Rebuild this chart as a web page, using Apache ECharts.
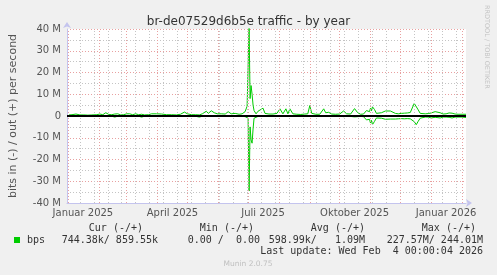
<!DOCTYPE html>
<html><head><meta charset="utf-8">
<script src="https://cdn.jsdelivr.net/npm/echarts@6/dist/echarts.min.js"></script>
<style>html,body{margin:0;padding:0;background:#f0f0f0}#c{width:497px;height:275px}</style>
</head><body><div id="c"></div>
<script>
// x values: days since 2024-12-31 (graph start, 400-day window ending 2026-02-04)
const days = [2,5,9,13,17,21,25,27,30,33,36,39,42,45,48,51,54,57,60,63,66,69,72,75,78,82,85,90,95,100,105,110,114,118,121,125,129,133,136,140,142,145,148,151,155,159,162,165,169,173,176,179,181,182,183,184,185,186,187,188,190,192,194,197,199,203,207,211,214,217,220,222,224,227,231,235,239,242,244,246,250,254,258,260,263,266,270,274,278,281,285,289,292,295,298,300,301,302,303,304,305,306,307,308,309,310,311,313,316,318,320,322,325,327,330,333,336,339,342,345,347,349,351,353,355,357,360,363,366,368,370,372,375,378,381,384,387,390,393,397,401];
// out (+), Mbit/s
const outMbps = [0.5,0.6,0.9,0.5,0.5,0.4,0.5,1.0,0.6,0.9,0.6,1.5,0.7,0.6,0.9,1.0,0.5,0.6,1.0,1.0,0.6,1.0,0.6,0.8,0.5,0.6,1.0,1.0,0.9,0.6,0.6,0.5,0.8,1.8,1.0,0.6,0.6,0.5,1.0,2.2,1.2,2.4,1.5,1.0,1.0,0.9,2.0,1.0,1.2,0.8,1.0,2.0,4.5,4.0,40.6,8,14,10,5,2.5,1.0,2.2,1.5,3.6,1.2,0.9,0.9,1.2,3.3,1.0,3.3,1.0,3.3,1.0,0.8,0.7,0.9,1.0,4.8,1.2,0.8,0.8,3.3,1.5,1.7,0.9,0.8,0.9,2.3,1.0,0.9,3.4,1.6,0.8,0.9,1.6,2.5,1.6,3.0,2.0,3.6,2.4,4.2,5.0,3.0,2.2,1.2,0.9,1.5,1.0,2.3,2.8,2.3,1.5,1.2,1.0,1.2,1.3,1.4,1.6,2.0,5.8,6.0,2.8,1.2,1.0,1.0,1.1,1.4,1.0,2.0,1.1,1.5,0.9,1.0,1.4,1.3,0.9,0.8,0.8,0.8];
// in (-), Mbit/s, drawn negative
const inMbps = [-0.1,-0.1,-0.1,-0.1,-0.1,-0.1,-0.1,-0.1,-0.1,-0.1,-0.1,-0.1,-0.1,-0.1,-0.5,-0.1,-0.1,-0.1,-0.1,-0.1,-0.1,-0.1,-0.1,-0.5,-0.1,-0.1,-0.1,-0.1,-0.1,-0.1,-0.1,-0.1,-0.1,-0.1,-0.1,-0.1,-0.1,-0.5,-0.1,-0.1,-0.1,-0.1,-0.1,-0.1,-0.1,-0.1,-0.1,-0.1,-0.1,-0.1,-0.1,-0.3,-0.5,-1.0,-34.5,-5,-11,-12.5,-6,-1,-0.3,-0.2,-0.1,-0.1,-0.1,-0.1,-0.1,-0.1,-0.1,-0.1,-0.1,-0.1,-0.1,-0.1,-0.1,-0.1,-0.1,-0.1,-0.2,-0.1,-0.1,-0.1,-0.1,-0.6,-0.2,-0.1,-0.2,-0.1,-0.3,-0.2,-0.2,-0.4,-0.3,-0.2,-0.3,-0.9,-1.8,-1.0,-2.5,-1.5,-3.2,-2.0,-4.0,-4.7,-2.5,-1.6,-0.9,-0.8,-1.0,-1.4,-1.5,-1.5,-1.4,-1.5,-1.4,-1.3,-1.2,-1.3,-1.2,-1.3,-1.7,-2.6,-4.0,-2.4,-1.0,-0.6,-0.5,-0.5,-0.9,-0.5,-0.6,-0.5,-0.9,-0.5,-0.5,-0.6,-0.9,-0.5,-0.5,-0.5,-0.7];

const xTickLabels = ['Januar 2025','April 2025','Juli 2025','Oktober 2025','Januar 2026'];
const xTickDates = ['2025-01-16','2025-04-16','2025-07-16','2025-10-16','2026-01-16'];
const monthStarts = ['2025-01-01','2025-02-01','2025-03-01','2025-04-01','2025-05-01','2025-06-01','2025-07-01','2025-08-01','2025-09-01','2025-10-01','2025-11-01','2025-12-01','2026-01-01','2026-02-01'];
const yTicks = [-40,-30,-20,-10,0,10,20,30,40];

const START = Date.UTC(2024,11,31);
const toDay = s => { const p = s.split('-').map(Number); return Math.round((Date.UTC(p[0],p[1]-1,p[2]) - START)/86400000); };
const labelDays = xTickDates.map(toDay);
const majorDays = monthStarts.map(toDay);
const minorDays = [];
for (let d = toDay('2025-01-13'); d < 401; d += 14) minorDays.push(d);

const GREEN = '#00cc00';
const chart = echarts.init(document.getElementById('c'), null, {renderer:'canvas'});
const vLines = (arr, color) => ({
  type:'line', data:[], silent:true, animation:false,
  markLine:{silent:true, animation:false, symbol:['none','none'], label:{show:false},
    lineStyle:{color:color, type:[1,2], width:1}, emphasis:{disabled:true},
    data: arr.map(d => ({xAxis:d}))}
});
const font = 'DejaVu Sans';
const mono = '10px "DejaVu Sans Mono"';
const txt = (text, x, y, align, f, fill) => ({type:'text', x:x, y:y, silent:true,
  style:{text:text, font:f||mono, fill:fill||'#333', textAlign:align||'left', align:align||'left', textVerticalAlign:'middle', verticalAlign:'middle'}});

chart.setOption({
  backgroundColor:'#f0f0f0',
  animation:false,
  title:{text:'br-de07529d6b5e traffic - by year', left:'center', top:11,
    textStyle:{fontSize:12, fontWeight:'normal', color:'#333', fontFamily:font}},
  grid:{left:65, right:31, top:29, bottom:72, show:true, backgroundColor:'#ffffff', borderWidth:0},
  xAxis:{type:'value', min:0, max:401,
    axisLine:{onZero:false, lineStyle:{color:'#c4c4ee'}, symbol:['none','arrow'], symbolSize:[6,6], symbolOffset:[0,6]},
    axisTick:{show:false}, splitLine:{show:false},
    axisLabel:{customValues:labelDays, formatter:v => xTickLabels[labelDays.indexOf(Math.round(v))] || '',
      color:'#555', fontSize:10, fontFamily:font, margin:5}},
  yAxis:{type:'value', min:-40, max:40, interval:10,
    name:'bits in (-) / out (+) per second', nameLocation:'middle', nameGap:48,
    nameTextStyle:{color:'#555', fontSize:11, fontFamily:font},
    axisLine:{show:true, onZero:false, lineStyle:{color:'#c4c4ee'}, symbol:['none','arrow'], symbolSize:[6,6], symbolOffset:[0,7]},
    axisTick:{show:false},
    axisLabel:{formatter:v => v===0 ? '0' : v+' M', color:'#555', fontSize:10, fontFamily:font, margin:6},
    splitLine:{show:true, lineStyle:{color:'#e8a0a0', type:[1,2], width:1}},
    minorTick:{show:false, splitNumber:2},
    minorSplitLine:{show:true, lineStyle:{color:'#c4c4c4', type:[1,2], width:1}}},
  series:[
    Object.assign(vLines(minorDays,'#c4c4c4'), {z:1}),
    Object.assign(vLines(majorDays,'#e8a0a0'), {z:2}),
    {type:'line', name:'out', z:3, data:days.map((d,i)=>[d,outMbps[i]]), showSymbol:false, symbol:'none',
      lineStyle:{color:GREEN, width:1}, itemStyle:{color:GREEN}, clip:true},
    {type:'line', name:'in', z:3, data:days.map((d,i)=>[d,inMbps[i]]), showSymbol:false, symbol:'none',
      lineStyle:{color:GREEN, width:1}, itemStyle:{color:GREEN}, clip:true},
    {type:'line', data:[], z:4, silent:true,
      markLine:{silent:true, animation:false, symbol:['none','none'], label:{show:false},
        lineStyle:{color:'#000', type:'solid', width:2}, emphasis:{disabled:true}, data:[{yAxis:0}]}}
  ],
  graphic:[
    {type:'rect', shape:{x:14, y:237, width:6, height:6}, style:{fill:GREEN}, silent:true},
    txt('bps', 27, 240),
    txt('Cur (-/+)', 143, 228, 'right'),
    txt('Min (-/+)', 254, 228, 'right'),
    txt('Avg (-/+)', 365, 228, 'right'),
    txt('Max (-/+)', 476, 228, 'right'),
    txt('744.38k/ 859.55k', 158, 240, 'right'),
    txt('0.00 /  0.00', 260, 240, 'right'),
    txt('598.99k/   1.09M', 365, 240, 'right'),
    txt('227.57M/ 244.01M', 483, 240, 'right'),
    txt('Last update: Wed Feb  4 00:00:04 2026', 483, 251, 'right'),
    txt('Munin 2.0.75', 248, 264, 'center', '7.5px "DejaVu Sans"', '#c0c0c0'),
    {type:'text', x:487, y:5, rotation:-Math.PI/2, silent:true,
      style:{text:'RRDTOOL / TOBI OETIKER', font:'6.5px "DejaVu Sans"', fill:'#c4c4c4', textAlign:'left', align:'left', textVerticalAlign:'middle', verticalAlign:'middle'}}
  ]
});
</script></body></html>
